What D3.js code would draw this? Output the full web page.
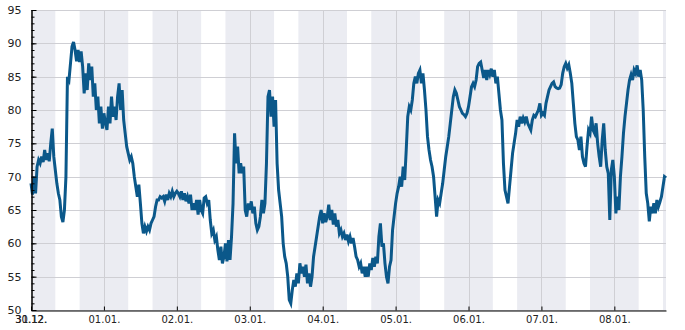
<!DOCTYPE html>
<html>
<head>
<meta charset="utf-8">
<script src="https://cdn.jsdelivr.net/npm/d3@7"></script>
<style>
  body { margin: 0; background: #fff; }
  text { font-family: "DejaVu Sans", Verdana, sans-serif; fill: #222; }
</style>
</head>
<body>
<div id="chart"></div>
<script>
// series: one reading every 30 minutes, starting 31.12. 00:00
var startTime = "2018-12-31T00:00";
var endTime = "2019-01-08T17:00";
var stepMinutes = 30;
var values = [
  69, 67.3, 70, 67.5, 71.5, 72.5, 72, 73, 72.2, 74,
  72.5, 73.5, 72.3, 75, 77.2, 73, 71, 69, 67.5, 66.5,
  64, 63.2, 65, 70, 85, 84.5, 87, 89.5, 90.2, 89,
  87.3, 89, 87.2, 88.8, 86.5, 82.5, 85.5, 83, 87, 84.5,
  86.5, 82, 84, 80, 82, 78, 80.5, 77.2, 79.5, 78,
  77, 80.5, 78, 82, 79, 80.5, 78.5, 82, 84, 80,
  83, 78.5, 76.5, 74.5, 73.5, 72.5, 73, 72, 70, 68.5,
  67, 68.8, 66, 63, 61.5, 62.5, 61.8, 62.5, 62, 63,
  63.5, 64, 65.5, 66.5, 66.5, 67, 66.8, 67, 66.3, 67.3,
  66.5, 67.5, 67, 67.8, 67, 67.5, 67.8, 67.5, 67, 67.8,
  66.5, 67.5, 66.3, 67, 66, 67.3, 65, 66, 65, 66.5,
  64.3, 66.5, 65, 64.5, 66.8, 67, 66, 66.5, 63.5, 61.5,
  62, 60.5, 61, 59, 57.5, 59.5, 57, 58, 60, 57.3,
  60.5, 57.5, 61, 66, 76.5, 72, 74.5, 70.5, 72, 70.5,
  71.5, 65, 64, 66, 65, 66.3, 64.5, 65.5, 63, 62,
  62.5, 64, 66.5, 64.5, 66, 72, 82, 83, 79, 82,
  77.5, 81.5, 72, 68, 66, 64, 60, 58, 57, 55,
  51.5, 51, 53, 54.5, 53.5, 55.5, 54, 57, 55.5, 56.5,
  55, 56.8, 54, 55.5, 53.5, 55, 58, 59.5, 61, 62.5,
  64, 65, 63, 64.5, 63.2, 64, 65.8, 63.5, 65, 62.8,
  64.5, 62.5, 63.5, 61.5, 62, 61, 61.5, 60.5, 61.3, 60.3,
  61, 60, 60.8, 59.5, 58, 57.5, 56.5, 57, 55.5, 56.5,
  55, 56.5, 55, 57, 56, 57.8, 56.5, 58, 57, 61,
  63, 59.5, 60, 57, 55, 54, 56.5, 57.5, 62, 64,
  66, 67.5, 68.5, 70, 68.5, 71.5, 69.5, 74, 79, 80.5,
  80, 81.5, 84, 85, 84, 85.5, 86, 84, 85.5, 83,
  80, 76, 74, 72.5, 71.5, 70, 67, 64, 66.5, 66,
  67.5, 69, 71, 73, 74.5, 76, 78, 80, 82, 83,
  82.5, 81.5, 80.5, 80, 79.5, 79.3, 79, 79.5, 80.5, 82,
  83.5, 84, 83.5, 84.5, 86.5, 87, 87.2, 86, 84.8, 86,
  84.5, 86, 85.3, 86.2, 85, 86, 84, 85, 82.5, 80,
  78.5, 72, 68, 67, 66, 68.5, 71, 73.5, 75, 76.5,
  78.5, 77.5, 79, 78, 78.8, 78.2, 79, 78, 77.5, 77,
  78.5, 79.2, 79, 79.5, 80, 81, 79.2, 79.5, 79.2, 81,
  82, 83, 83.5, 84, 84.2, 83.5, 83.3, 83.2, 83.3, 83.8,
  85.5, 86.5, 87, 86.3, 86.8, 85.5, 84, 81, 78, 76,
  75.5, 74, 76, 73, 72, 71.5, 74.5, 77, 76.5, 79,
  77, 76.5, 78, 75, 73, 71.5, 75.5, 78, 74, 71.5,
  70.5, 63.5, 71, 72.5, 70, 64.5, 67, 65, 70, 73,
  76.5, 79, 81, 83, 84.5, 85.3, 84.5, 86, 85.5, 86.7,
  85, 86, 84.5, 80, 73, 67.5, 66, 63.3, 65.5, 64.5,
  66, 64.5, 66.5, 65.5, 66.2, 67, 68.5, 70, 69.8
];

var dayTicks = ["2018-12-31", "2019-01-01", "2019-01-02", "2019-01-03", "2019-01-04",
                "2019-01-05", "2019-01-06", "2019-01-07", "2019-01-08"];
var dayLabels = ["31.12.", "01.01.", "02.01.", "03.01.", "04.01.",
                 "05.01.", "06.01.", "07.01.", "08.01."];
var firstLabel = "30.12.";
var yTicks = [50, 55, 60, 65, 70, 75, 80, 85, 90, 95];
var yMinorTicks = d3.range(50, 96, 1);
// shaded night hours
var nightFrom = 16, nightTo = 8;

var parseTime = d3.timeParse("%Y-%m-%dT%H:%M");
var parseDay = d3.timeParse("%Y-%m-%d");
var t0 = parseTime(startTime);
var t1 = parseTime(endTime);

var data = values.map(function(v, i) {
    return {t: d3.timeMinute.offset(t0, i * stepMinutes), v: v};
});

var width = 685, height = 330;
var plotLeft = 31, plotRight = 666, plotTop = 10, plotBottom = 310;

var x = d3.scaleTime().domain([t0, t1]).range([plotLeft, plotRight]);
var y = d3.scaleLinear().domain([50, 95]).range([plotBottom, plotTop]);

var svg = d3.select("#chart").append("svg")
    .attr("width", width)
    .attr("height", height);

// night bands
var bands = [];
d3.timeDay.range(d3.timeDay.offset(t0, -1), t1).forEach(function(d) {
    var a = d3.timeHour.offset(d, nightFrom);
    var b = d3.timeHour.offset(d, 24 + nightTo);
    if (b < t0 || a > t1) return;
    bands.push([a < t0 ? t0 : a, b > t1 ? t1 : b]);
});

svg.append("g").selectAll("rect")
    .data(bands)
    .enter()
    .append("rect")
    .attr("x", function(d) { return x(d[0]); })
    .attr("y", plotTop)
    .attr("width", function(d) { return x(d[1]) - x(d[0]); })
    .attr("height", plotBottom - plotTop)
    .style("fill", "#ebecf2");

// grid
var ticksX = dayTicks.map(function(s) { return parseDay(s); });

svg.append("g").selectAll("line")
    .data(yTicks)
    .enter()
    .append("line")
    .attr("x1", plotLeft).attr("x2", plotRight)
    .attr("y1", function(d) { return Math.round(y(d)) + 0.5; })
    .attr("y2", function(d) { return Math.round(y(d)) + 0.5; })
    .style("stroke", "#cfcfd4");

svg.append("g").selectAll("line")
    .data(ticksX.slice(1))
    .enter()
    .append("line")
    .attr("x1", function(d) { return Math.round(x(d)) + 0.5; })
    .attr("x2", function(d) { return Math.round(x(d)) + 0.5; })
    .attr("y1", plotTop).attr("y2", plotBottom)
    .style("stroke", "#cfcfd4");

// series
var line = d3.line()
    .x(function(d) { return x(d.t); })
    .y(function(d) { return y(d.v); });

svg.append("path")
    .datum(data)
    .attr("d", line)
    .style("fill", "none")
    .style("stroke", "#0b588a")
    .style("stroke-width", 3);

// y axis
var yAxis = d3.axisLeft(y)
    .tickValues(yTicks)
    .tickSizeInner(-5)
    .tickSizeOuter(0)
    .tickPadding(10);

var yMinor = d3.axisLeft(y)
    .tickValues(yMinorTicks)
    .tickSizeInner(-3)
    .tickSizeOuter(0)
    .tickFormat("");

svg.append("g")
    .attr("transform", "translate(" + (plotLeft + 0.5) + ",0)")
    .call(yMinor);

var gy = svg.append("g")
    .attr("transform", "translate(" + (plotLeft + 0.5) + ",0)")
    .call(yAxis);
gy.selectAll("text").style("font-size", "11px").style("font-family", "DejaVu Sans");

// x axis
var xAxis = d3.axisBottom(x)
    .tickValues(ticksX)
    .tickSizeInner(-4)
    .tickSizeOuter(0)
    .tickPadding(5)
    .tickFormat(function(d, i) { return dayLabels[i]; });

var gx = svg.append("g")
    .attr("transform", "translate(0," + (plotBottom + 0.5) + ")")
    .call(xAxis);
gx.selectAll("text").style("font-size", "10px").style("font-family", "DejaVu Sans");

gx.append("text")
    .attr("x", x(t0))
    .attr("y", 5)
    .attr("dy", "0.71em")
    .attr("text-anchor", "middle")
    .style("font-size", "10px")
    .style("fill", "#222")
    .text(firstLabel);

svg.selectAll(".domain, .tick line").style("stroke", "#000");
</script>
</body>
</html>
